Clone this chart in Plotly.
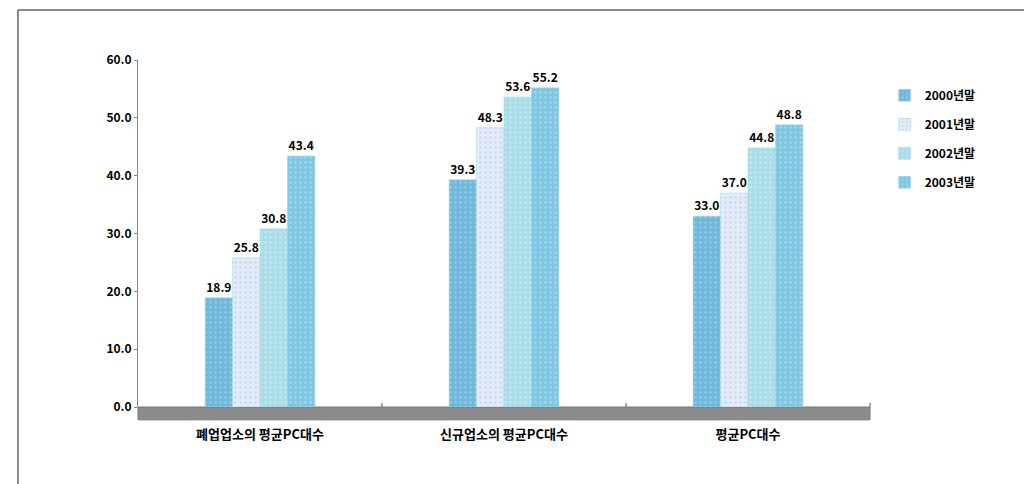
import plotly.graph_objects as go

categories = ["폐업업소의 평균PC대수", "신규업소의 평균PC대수", "평균PC대수"]
series_names = ["2000년말", "2001년말", "2002년말", "2003년말"]
values_2000 = [18.9, 39.3, 33.0]
values_2001 = [25.8, 48.3, 37.0]
values_2002 = [30.8, 53.6, 44.8]
values_2003 = [43.4, 55.2, 48.8]
y_ticks = [0, 10, 20, 30, 40, 50, 60]

all_values = [values_2000, values_2001, values_2002, values_2003]
colors = ["#6fb8da", "#e4ecf8", "#a9dde9", "#80c6e2"]
pattern_fg = ["#a8d8f0", "#b9c8f0", "#d8f0f4", "#b8e4f2"]

font_family = "Noto Sans CJK KR, Noto Sans, sans-serif"

fig = go.Figure()
for name, vals, c, pf in zip(series_names, all_values, colors, pattern_fg):
    fig.add_trace(go.Bar(
        name=name, x=categories, y=vals, legendgroup=name,
        marker=dict(color=c, line=dict(color="#9fd3e8", width=0.5),
                    pattern=dict(shape=".", fgcolor=pf, size=5, solidity=0.25)),
        text=[f"{v:.1f}" for v in vals], textposition="outside",
        textfont=dict(family=font_family, size=12, color="#000000", weight="bold"),
        cliponaxis=False,
    ))

fig.update_layout(
    width=1032, height=484,
    paper_bgcolor="white", plot_bgcolor="white",
    margin=dict(l=130, r=170, t=52, b=85),
    barmode="group", bargap=0.55, bargroupgap=0,
    font=dict(family=font_family, color="#000000"),
    legend=dict(x=1.02, y=0.94, xanchor="left", yanchor="top",
                font=dict(size=12, family=font_family, weight="bold"),
                tracegroupgap=10, itemwidth=30, bgcolor="rgba(0,0,0,0)"),
    showlegend=True,
)
fig.update_yaxes(range=[0, 60], tickvals=y_ticks,
                 ticktext=[f"{t:.1f}" for t in y_ticks],
                 showgrid=False, zeroline=False,
                 showline=True, linecolor="#888888", linewidth=1,
                 ticks="outside", ticklen=3, tickcolor="#888888",
                 tickfont=dict(size=12, family=font_family, weight="bold"))
fig.update_xaxes(showgrid=False, showline=False, ticks="",
                 tickfont=dict(size=13, family=font_family, weight="bold"),
                 ticklabelstandoff=18)

# 3D-style floor band
fig.add_shape(type="rect", xref="paper", yref="paper", x0=0, x1=1, y0=-0.037, y1=0.0,
              fillcolor="#8c8c8c", line=dict(color="#777777", width=1), layer="below")
# category separator ticks
for xp in [1/3, 2/3, 1.0]:
    fig.add_shape(type="line", xref="paper", yref="paper", x0=xp, x1=xp, y0=0, y1=0.012,
                  line=dict(color="#555555", width=1))
# outer frame
fig.add_shape(type="line", xref="paper", yref="paper", x0=-0.164, x1=1.221, y0=1.144, y1=1.144,
              line=dict(color="#666666", width=1.5))
fig.add_shape(type="line", xref="paper", yref="paper", x0=-0.164, x1=-0.164, y0=1.144, y1=-0.25,
              line=dict(color="#666666", width=1.5))

fig.write_html("out.html")
